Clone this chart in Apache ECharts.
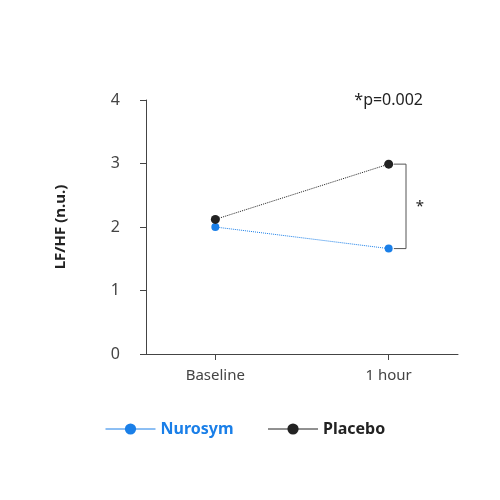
<!DOCTYPE html>
<html><head><meta charset="utf-8">
<script src="https://cdn.jsdelivr.net/npm/echarts@6/dist/echarts.min.js"></script>
<style>html,body{margin:0;background:#fff}#c{width:500px;height:500px}</style>
</head><body><div id="c"></div>
<script>
var categories = ['Baseline', '1 hour'];
var nurosym = [2.0, 1.66];
var placebo = [2.12, 2.99];
var yTicks = [0, 1, 2, 3, 4];
var pText = '*p=0.002';
var sigMark = '*';

var chart = echarts.init(document.getElementById('c'));
var font = 'Noto Sans';
function pts(v){ return v.map(function(y,i){ return [i,y]; }); }
chart.setOption({
  animation:false,
  textStyle:{fontFamily:font},
  grid:{left:146,right:42,top:100,bottom:146},
  xAxis:{type:'value',min:-0.4,max:1.4,
    axisLine:{show:true,onZero:false,lineStyle:{color:'#444'}},
    axisTick:{show:true,customValues:[0,1],length:6,lineStyle:{color:'#444'}},
    axisLabel:{customValues:[0,1],formatter:function(v){return categories[Math.round(v)];},color:'#444',fontSize:15,margin:14},
    splitLine:{show:false}},
  yAxis:{type:'value',min:0,max:4,interval:1,
    name:'LF/HF (n.u.)',nameLocation:'middle',nameGap:78,nameTextStyle:{fontSize:15,fontWeight:'bold',color:'#222'},
    axisLine:{show:true,onZero:false,lineStyle:{color:'#444'}},
    axisTick:{show:true,length:6,lineStyle:{color:'#444'}},
    axisLabel:{color:'#444',fontSize:16,margin:26},
    splitLine:{show:false}},
  legend:{left:100,top:416,itemWidth:50,itemGap:34,
    textStyle:{fontSize:16,fontWeight:'bold'},
    data:[{name:'Nurosym',textStyle:{color:'#1a7fe8'},lineStyle:{type:'solid',width:1}},
          {name:'Placebo',textStyle:{color:'#222'},lineStyle:{type:'solid',width:1}}]},
  series:[
    {name:'Nurosym',type:'line',data:pts(nurosym),color:'#1a7fe8',symbol:'circle',symbolSize:8,
     lineStyle:{width:1,type:'dotted',color:'#1a7fe8'}},
    {name:'Placebo',type:'line',data:pts(placebo),color:'#222',symbol:'circle',symbolSize:9,
     lineStyle:{width:1,type:'dotted',color:'#222'}},
    {type:'line',data:[[1.03,placebo[1]],[1.1,placebo[1]],[1.1,nurosym[1]],[1.03,nurosym[1]]],
     symbol:'none',lineStyle:{width:1,color:'#555'},silent:true,
     markPoint:{symbol:'circle',symbolSize:1,itemStyle:{color:'rgba(0,0,0,0)'},
       label:{show:true,position:'inside',formatter:sigMark,color:'#222',fontSize:15},
       data:[{coord:[1.18,(placebo[1]+nurosym[1])/2]}]}},
    {type:'line',data:[[1.0,4]],symbol:'none',silent:true,
     markPoint:{symbol:'circle',symbolSize:1,itemStyle:{color:'rgba(0,0,0,0)'},
       label:{show:true,position:'inside',formatter:pText,color:'#222',fontSize:16},
       data:[{coord:[1.0,4]}]}}
  ]
});
</script></body></html>
